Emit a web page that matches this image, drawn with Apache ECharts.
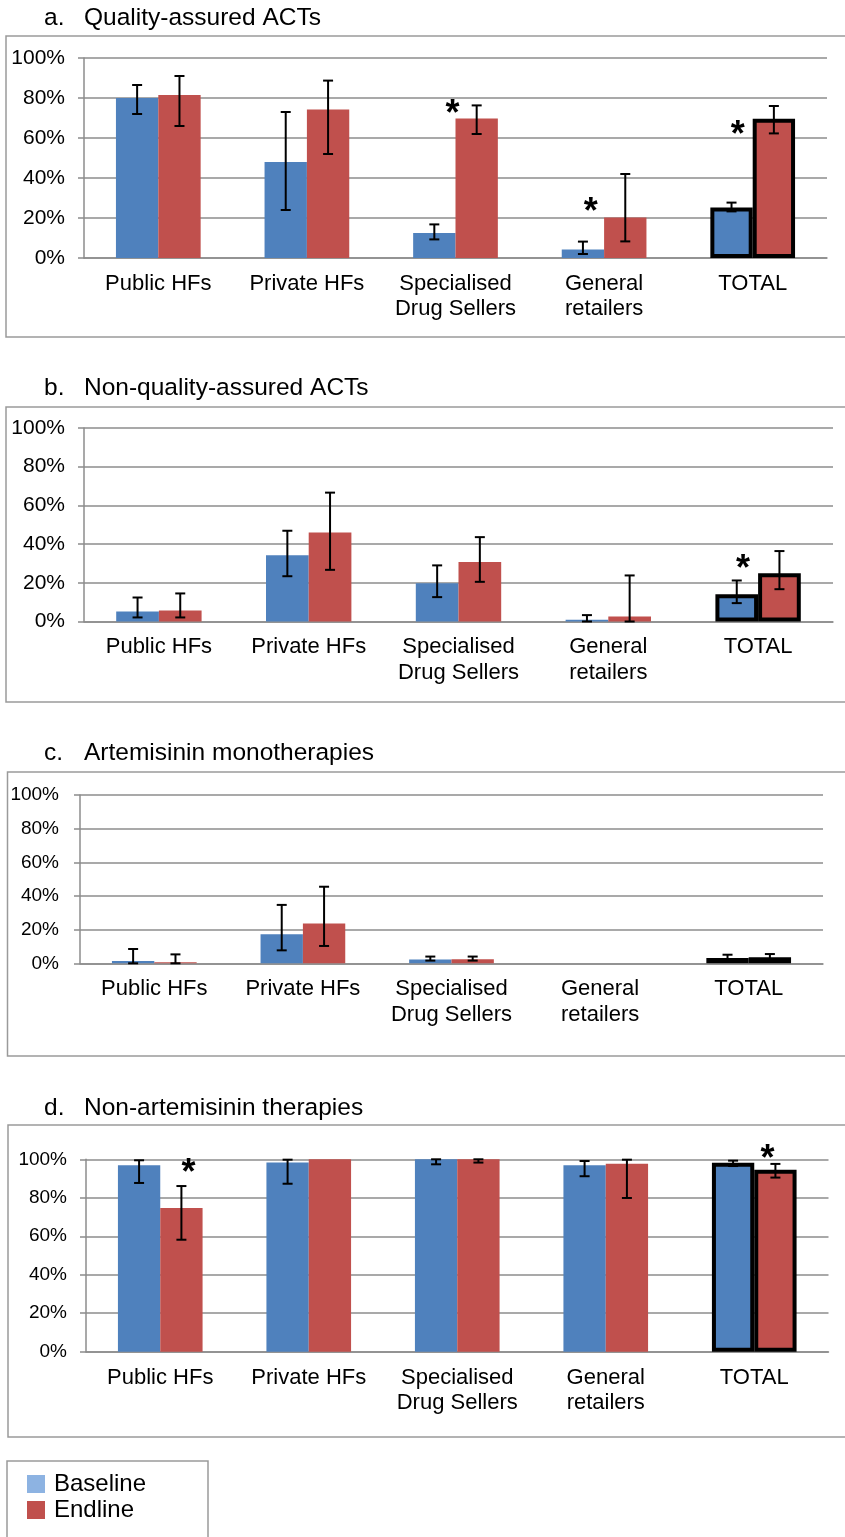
<!DOCTYPE html>
<html>
<head>
<meta charset="utf-8">
<script src="https://cdn.jsdelivr.net/npm/echarts@6/dist/echarts.min.js"></script>
<style>
  html, body { margin: 0; padding: 0; background: #fff; }
  #main { width: 845px; height: 1537px; }
</style>
</head>
<body>
<div id="main"></div>
<script>
  var categories = ['Public HFs', 'Private HFs', 'Specialised\nDrug Sellers', 'General\nretailers', 'TOTAL'];
  var yMin = 0, yMax = 100, yStep = 20;

  // a. Quality-assured ACTs
  var aBase = [80, 48, 12.5, 4.2, 25.3];
  var aBaseLow = [72, 24, 9.3, 2, 23.3];
  var aBaseHigh = [86.5, 73, 16.8, 8.2, 27.7];
  var aEnd = [81.5, 74.3, 69.7, 20.3, 69.6];
  var aEndLow = [66, 52, 62, 8.3, 62.3];
  var aEndHigh = [91, 88.7, 76.3, 42, 76];
  var aStars = [[2, 75.5, -0.02], [3, 26.5, -0.09], [4, 65, -0.1]];

  // b. Non-quality-assured ACTs
  var bBase = [5.2, 34.3, 19.8, 0.9, 14.1];
  var bBaseLow = [2.1, 23.4, 12.6, 0, 9.5];
  var bBaseHigh = [12.4, 46.9, 29, 3.3, 21.2];
  var bEnd = [5.7, 46, 30.7, 2.6, 25];
  var bEndLow = [2.1, 26.7, 20.5, 0, 16.7];
  var bEndHigh = [14.5, 66.6, 43.6, 23.8, 36.4];
  var bStars = [[4, 30.5, -0.1]];

  // c. Artemisinin monotherapies
  var cBase = [1.4, 17.2, 2.2, null, 3.2];
  var cBaseLow = [0, 7.7, 1.6, null, 2];
  var cBaseHigh = [8.5, 34.7, 4, null, 5.1];
  var cEnd = [0.6, 23.6, 2.4, null, 3.6];
  var cEndLow = [0, 10.3, 1.6, null, 2];
  var cEndHigh = [5.3, 45.5, 4, null, 5.5];
  var cStars = [];

  // d. Non-artemisinin therapies
  var dBase = [96.9, 98.3, 100, 96.9, 98.2];
  var dBaseLow = [87.7, 87.3, 97.4, 91.2, 96.5];
  var dBaseHigh = [99.5, 99.8, 100, 99.1, 99.3];
  var dEnd = [74.7, 100, 100, 97.7, 94.6];
  var dEndLow = [58.2, null, 98.3, 79.9, 90.5];
  var dEndHigh = [86.1, null, 100, 99.8, 97.6];
  var dStars = [[0, 96.6, 0.19], [4, 104, 0.09]];

  var FONT = "'Liberation Sans', Arial, sans-serif";
  var BAR_FRAC = 0.285;
  var TOTAL_IDX = 4;

  var panels = [
    { label: 'a.', title: 'Quality-assured ACTs', ty: 18, frame: [6, 36, 301],
      grid: { left: 84, top: 58, width: 743, height: 200 }, yFont: 21, yMargin: 19,
      base: aBase, baseLow: aBaseLow, baseHigh: aBaseHigh, end: aEnd, endLow: aEndLow, endHigh: aEndHigh, stars: aStars },
    { label: 'b.', title: 'Non-quality-assured ACTs', ty: 388, frame: [6, 407, 295],
      grid: { left: 84, top: 428, width: 749, height: 193.5 }, yFont: 21, yMargin: 19,
      base: bBase, baseLow: bBaseLow, baseHigh: bBaseHigh, end: bEnd, endLow: bEndLow, endHigh: bEndHigh, stars: bStars },
    { label: 'c.', title: 'Artemisinin monotherapies', ty: 753, frame: [7.5, 772, 284],
      grid: { left: 80, top: 795, width: 743, height: 168.3 }, yFont: 19, yMargin: 21,
      base: cBase, baseLow: cBaseLow, baseHigh: cBaseHigh, end: cEnd, endLow: cEndLow, endHigh: cEndHigh, stars: cStars },
    { label: 'd.', title: 'Non-artemisinin therapies', ty: 1108, frame: [8, 1125, 312],
      grid: { left: 86, top: 1159.3, width: 742.5, height: 192.4 }, yFont: 19, yMargin: 19,
      base: dBase, baseLow: dBaseLow, baseHigh: dBaseHigh, end: dEnd, endLow: dEndLow, endHigh: dEndHigh, stars: dStars }
  ];

  var gray = '#8c8c8c';
  var grids = [], xAxes = [], yAxes = [], series = [], graphics = [];

  function barData(vals) {
    return vals.map(function (v, i) {
      if (i === TOTAL_IDX) return { value: v, itemStyle: { borderColor: '#000', borderWidth: 4 } };
      return v;
    });
  }

  function errSeries(p, low, high, side) {
    var data = [];
    low.forEach(function (l, i) { if (l != null) data.push([i, l, high[i]]); });
    return {
      type: 'custom', name: 'err', xAxisIndex: p, yAxisIndex: p, z: 5, silent: true,
      encode: { x: 0, y: [1, 2] }, data: data, clip: false,
      renderItem: function (params, api) {
        var c = api.value(0);
        var lo = api.coord([c, api.value(1)]);
        var hi = api.coord([c, api.value(2)]);
        var band = api.size([1, 0])[0];
        var x = lo[0] + side * band * BAR_FRAC / 2;
        var cap = 5, st = { stroke: '#000', lineWidth: 2 };
        return { type: 'group', children: [
          { type: 'line', shape: { x1: x, y1: lo[1], x2: x, y2: hi[1] }, style: st },
          { type: 'line', shape: { x1: x - cap, y1: hi[1], x2: x + cap, y2: hi[1] }, style: st },
          { type: 'line', shape: { x1: x - cap, y1: lo[1], x2: x + cap, y2: lo[1] }, style: st }
        ] };
      }
    };
  }

  function starSeries(p, stars) {
    return {
      type: 'custom', name: 'sig', xAxisIndex: p, yAxisIndex: p, z: 6, silent: true,
      encode: { x: 0, y: 1 }, data: stars, clip: false,
      renderItem: function (params, api) {
        var pt = api.coord([api.value(0), api.value(1)]);
        var band = api.size([1, 0])[0];
        return {
          type: 'text', x: pt[0] + api.value(2) * band, y: pt[1] + 8,
          style: { text: '*', fontSize: 36, fontWeight: 'bold', fontFamily: FONT, fill: '#000', align: 'center', verticalAlign: 'middle' }
        };
      }
    };
  }

  panels.forEach(function (pn, p) {
    grids.push(pn.grid);
    xAxes.push({
      type: 'category', gridIndex: p, data: categories,
      axisLine: { lineStyle: { color: gray, width: 1.5 } },
      axisTick: { length: 6, lineStyle: { color: gray, width: 1.5 } },
      axisLabel: { interval: 0, fontSize: 22, color: '#000', fontFamily: FONT, margin: 13, lineHeight: 25.5 }
    });
    yAxes.push({
      type: 'value', gridIndex: p, min: yMin, max: yMax, interval: yStep,
      axisLine: { show: true, lineStyle: { color: gray, width: 1.5 } },
      axisTick: { show: true, length: 6, lineStyle: { color: gray, width: 1.5 } },
      axisLabel: { formatter: '{value}%', fontSize: pn.yFont, color: '#000', fontFamily: FONT, margin: pn.yMargin },
      splitLine: { lineStyle: { color: gray, width: 1.5 } }
    });
    series.push({
      type: 'bar', name: 'Baseline', xAxisIndex: p, yAxisIndex: p, barWidth: (BAR_FRAC * 100) + '%', barGap: '0%',
      itemStyle: { color: '#4f81bd' }, data: barData(pn.base), silent: true
    });
    series.push({
      type: 'bar', name: 'Endline', xAxisIndex: p, yAxisIndex: p, barWidth: (BAR_FRAC * 100) + '%', barGap: '0%',
      itemStyle: { color: '#c0504d' }, data: barData(pn.end), silent: true
    });
    series.push(errSeries(p, pn.baseLow, pn.baseHigh, -1));
    series.push(errSeries(p, pn.endLow, pn.endHigh, 1));
    if (pn.stars.length) series.push(starSeries(p, pn.stars));

    graphics.push({
      type: 'rect', shape: { x: pn.frame[0], y: pn.frame[1], width: 860, height: pn.frame[2] },
      style: { fill: 'none', stroke: '#9a9a9a', lineWidth: 1.5 }, silent: true
    });
    graphics.push({
      type: 'text', x: 44, y: pn.ty,
      style: { text: pn.label, fontSize: 24.5, fontFamily: FONT, fill: '#000', verticalAlign: 'middle' }
    });
    graphics.push({
      type: 'text', x: 84, y: pn.ty,
      style: { text: pn.title, fontSize: 24.5, fontFamily: FONT, fill: '#000', verticalAlign: 'middle' }
    });
  });

  // legend frame
  graphics.push({
    type: 'rect', shape: { x: 7, y: 1461, width: 201, height: 100 },
    style: { fill: 'none', stroke: '#9a9a9a', lineWidth: 1.5 }, silent: true
  });

  var chart = echarts.init(document.getElementById('main'));
  chart.setOption({
    animation: false,
    textStyle: { fontFamily: FONT },
    grid: grids,
    xAxis: xAxes,
    yAxis: yAxes,
    series: series,
    graphic: graphics,
    legend: {
      orient: 'vertical', left: 27, top: 1472, itemWidth: 18, itemHeight: 18, itemGap: 2,
      icon: 'rect', selectedMode: false, padding: 0,
      data: [
        { name: 'Baseline', itemStyle: { color: '#8db3e2' } },
        { name: 'Endline', itemStyle: { color: '#c0504d' } }
      ],
      textStyle: { fontSize: 24, color: '#000', fontFamily: FONT, padding: [0, 0, 0, 4] }
    }
  });
</script>
</body>
</html>
